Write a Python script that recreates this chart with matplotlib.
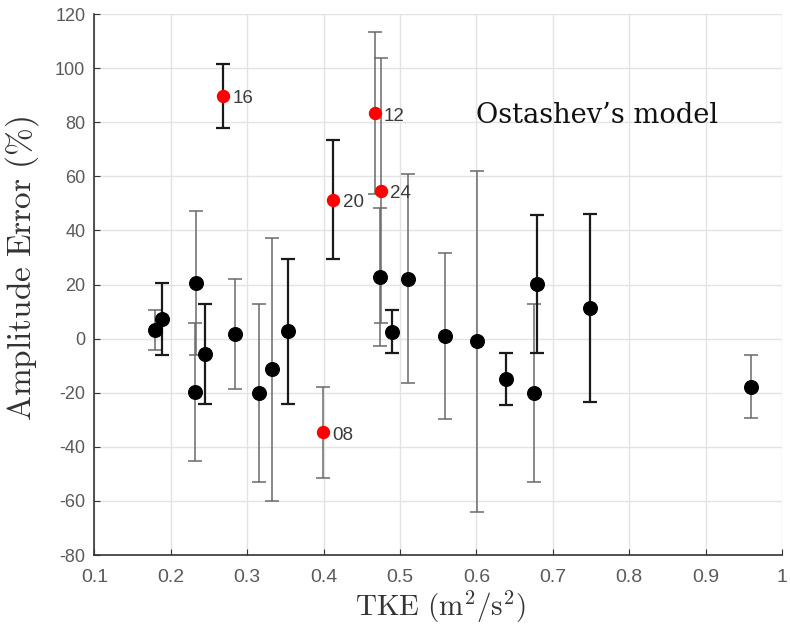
import matplotlib
matplotlib.use("Agg")
import matplotlib.pyplot as plt

# TKE (m^2/s^2), amplitude error (%) and half-width of the error bar
tke_blk = [0.180, 0.189, 0.233, 0.232, 0.245, 0.284, 0.316, 0.333, 0.354, 0.474,
           0.489, 0.510, 0.559, 0.601, 0.639, 0.675, 0.679, 0.749, 0.960]
err_blk = [3.1, 7.3, 20.6, -19.8, -5.7, 1.8, -20.1, -11.4, 2.7, 22.8,
           2.6, 22.2, 1.0, -1.0, -15.0, -20.1, 20.2, 11.2, -17.8]
unc_blk = [7.4, 13.2, 26.5, 25.5, 18.4, 20.3, 32.9, 48.6, 26.8, 25.5,
           7.8, 38.6, 30.6, 63.0, 9.7, 32.9, 25.5, 34.7, 11.7]
dark_blk = [False, True, False, False, True, False, False, False, True, False,
            True, False, False, False, True, False, True, True, False]

tke_red = [0.269, 0.413, 0.467, 0.475, 0.399]
err_red = [89.7, 51.4, 83.3, 54.7, -34.7]
unc_red = [11.8, 21.9, 29.9, 49.0, 16.9]
dark_red = [True, True, False, False, False]
lbl_red = ["16", "20", "12", "24", "08"]

plt.rcParams["mathtext.fontset"] = "cm"
plt.rcParams["axes.unicode_minus"] = False

fig = plt.figure(figsize=(7.9, 6.27), dpi=100)
ax = fig.add_axes([0.1194, 0.1148, 0.8705, 0.8628])


def bars(x, y, e, dark):
    for xi, yi, ei, d in zip(x, y, e, dark):
        ax.errorbar(xi, yi, yerr=ei, fmt="none",
                    ecolor="#1a1a1a" if d else "#6a6a6a",
                    elinewidth=1.6 if d else 1.1, capsize=5,
                    capthick=1.6 if d else 1.1, zorder=2)


bars(tke_blk, err_blk, unc_blk, dark_blk)
bars(tke_red, err_red, unc_red, dark_red)
ax.plot(tke_blk, err_blk, "o", color="black", ms=9.8, zorder=3)
ax.plot(tke_red, err_red, "o", color="#ff0000", ms=8.6, zorder=3)
for x, y, s in zip(tke_red, err_red, lbl_red):
    ax.text(x + 0.012, y - 1, s, fontsize=13.5, color="#3a3a3a",
            family="Liberation Sans", va="center", ha="left")

ax.text(0.758, 82.5, "Ostashev\u2019s model", fontsize=19.6, family="DejaVu Serif",
        color="#111111", ha="center", va="center")

ax.set_xlim(0.1, 1.0)
ax.set_ylim(-80, 120)
ax.set_xticks([0.1, 0.2, 0.3, 0.4, 0.5, 0.6, 0.7, 0.8, 0.9, 1.0])
ax.set_xticklabels(["0.1", "0.2", "0.3", "0.4", "0.5", "0.6", "0.7", "0.8", "0.9", "1"])
ax.set_yticks(range(-80, 121, 20))
ax.grid(True, color="#e3e3e3", lw=1)
ax.set_axisbelow(True)
for s in ["top", "right"]:
    ax.spines[s].set_visible(False)
for s in ["left", "bottom"]:
    ax.spines[s].set_color("#333333")
    ax.spines[s].set_linewidth(1.2)
ax.tick_params(direction="in", length=4.5, color="#333333", labelcolor="#5a5a5a")
ax.tick_params(axis="x", labelsize=14, pad=10)
ax.tick_params(axis="y", labelsize=13, pad=6.5)
for lab in ax.get_xticklabels() + ax.get_yticklabels():
    lab.set_family("Liberation Sans")

ax.set_xlabel(r"$\mathrm{TKE\ (m^2/s^2)}$", fontsize=21, color="#333333")
ax.set_ylabel(r"$\mathrm{Amplitude\ Error\ (\%)}$", fontsize=24, color="#333333")
ax.xaxis.set_label_coords(0.503, -0.062)
ax.yaxis.set_label_coords(-0.078, 0.53)

fig.savefig("out.png", dpi=100)
